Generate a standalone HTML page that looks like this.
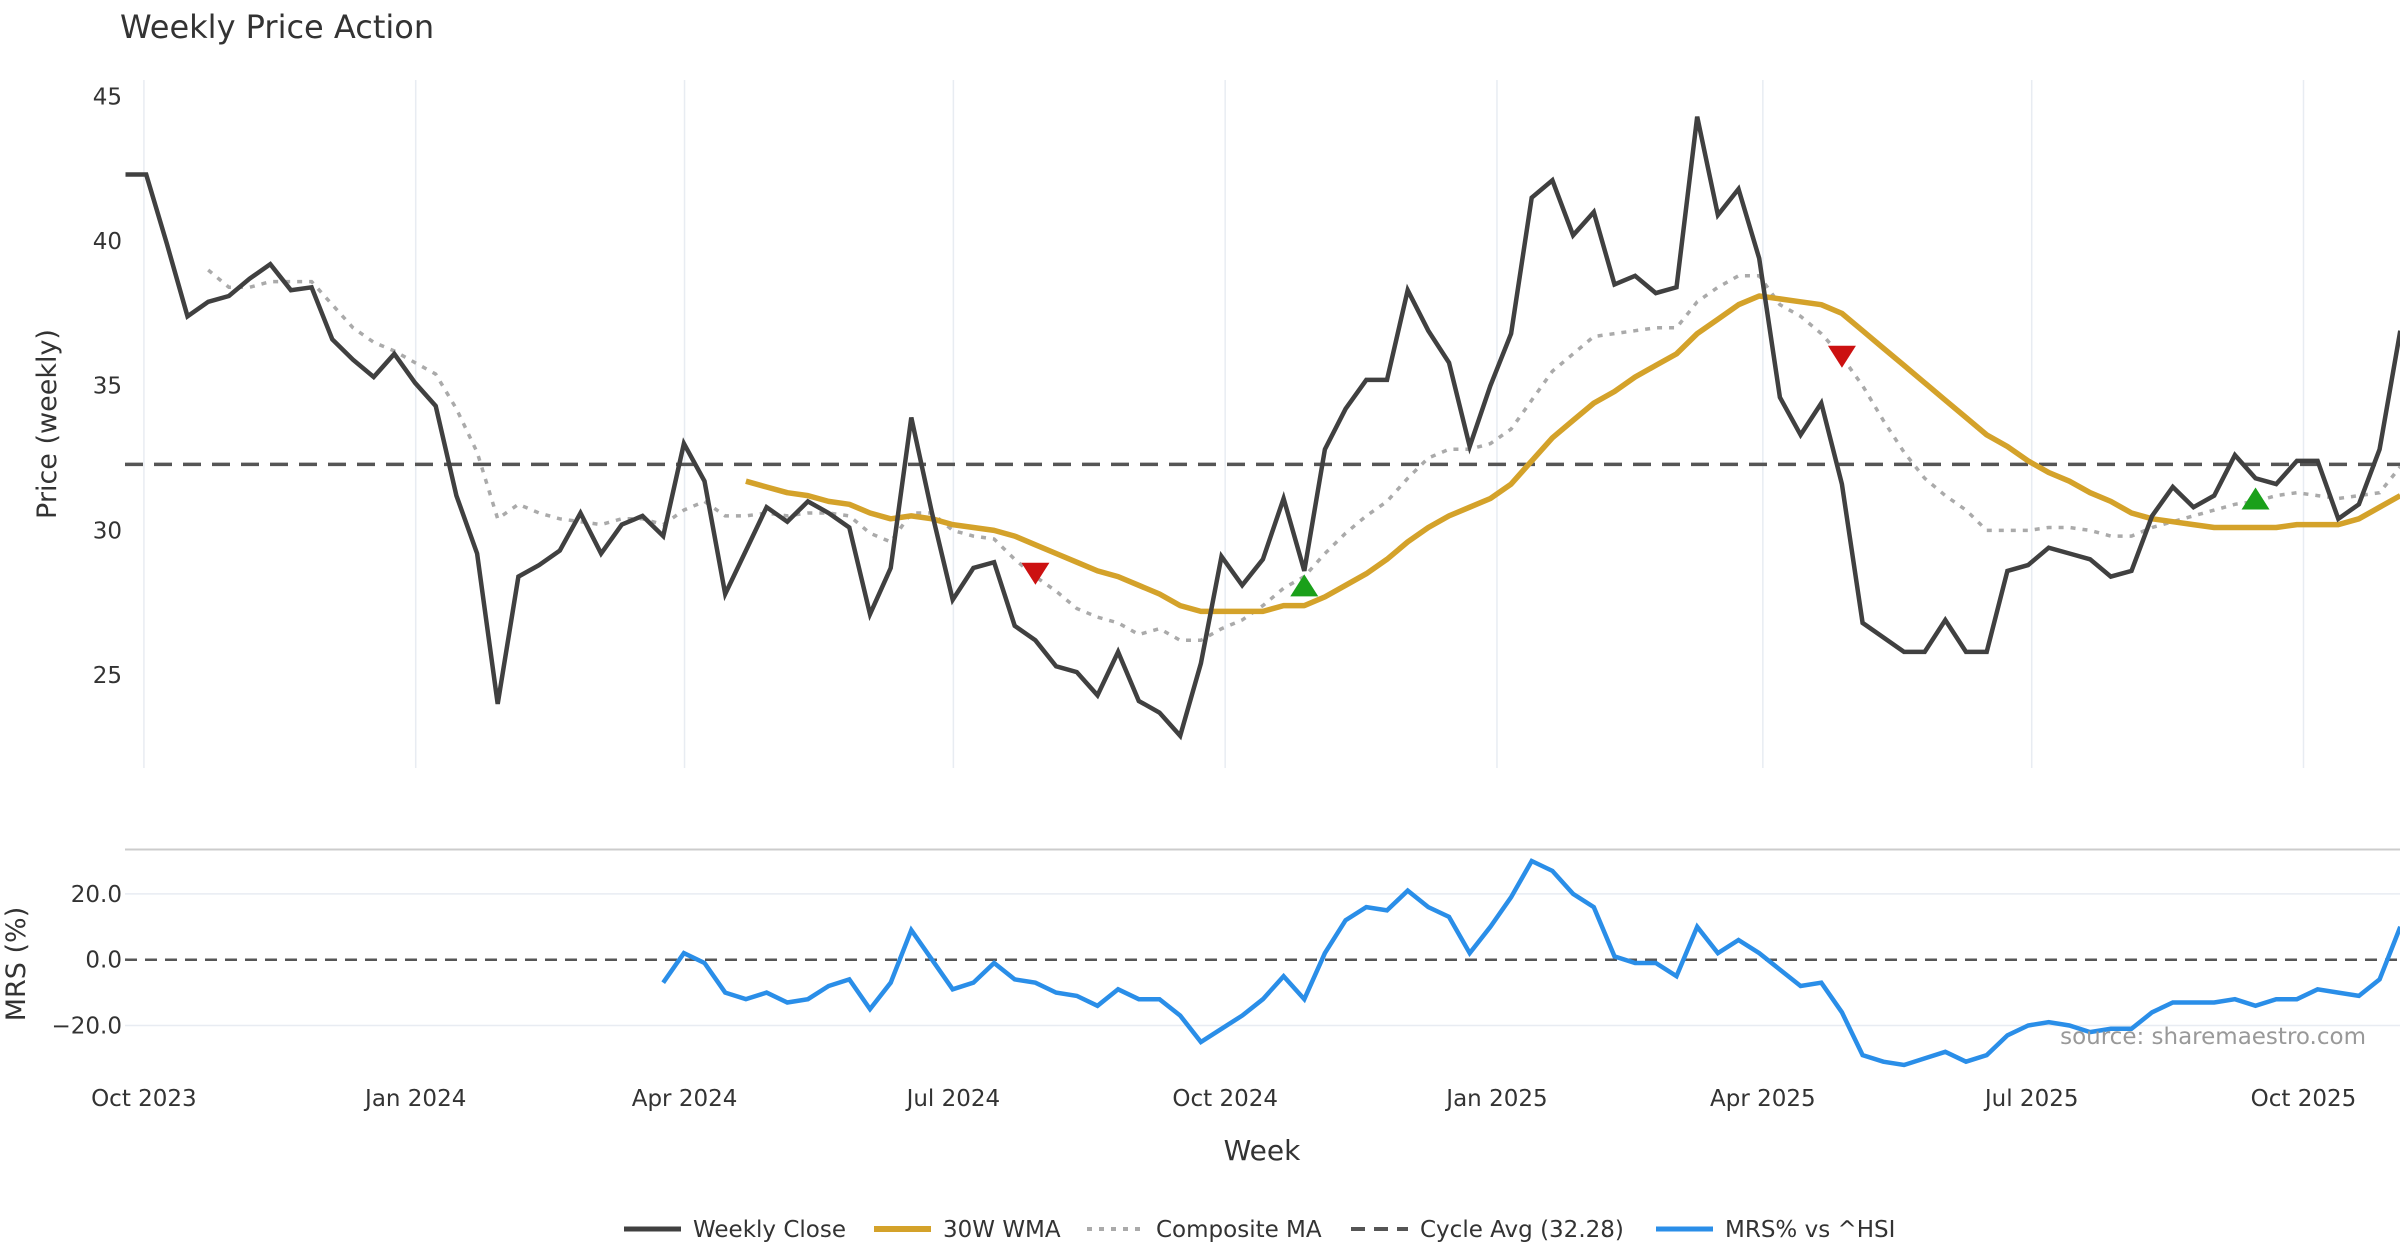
<!DOCTYPE html>
<html><head><meta charset="utf-8"><style>
html,body{margin:0;padding:0;background:#fff;}
svg{display:block;font-family:"DejaVu Sans","Liberation Sans",sans-serif;}
</style></head><body>
<svg id="chart" width="2400" height="1260" viewBox="0 0 2400 1260" xmlns="http://www.w3.org/2000/svg">
<defs>
<clipPath id="mainClip"><rect x="125" y="70" width="2275" height="700"/></clipPath>
<clipPath id="mrsClip"><rect x="125" y="850" width="2275" height="230"/></clipPath>
</defs>
<text x="120" y="38" font-size="32" fill="#333">Weekly Price Action</text>
<g id="main"></g>
<g id="mrs"></g>
<g id="xaxis"></g>
<text x="1262" y="1160" font-size="28" fill="#333" text-anchor="middle">Week</text>
<text transform="translate(56,424) rotate(-90)" font-size="27" fill="#333" text-anchor="middle">Price (weekly)</text>
<text transform="translate(25,964) rotate(-90)" font-size="27" fill="#333" text-anchor="middle">MRS (%)</text>
<text x="2366" y="1044" font-size="23" fill="#999" text-anchor="end">source: sharemaestro.com</text>
<g id="legend"></g>
</svg>
<script>
const closeVals=[42.3,42.3,39.9,37.4,37.9,38.1,38.7,39.2,38.3,38.4,36.6,35.9,35.3,36.1,35.1,34.3,31.2,29.2,24.0,28.4,28.8,29.3,30.6,29.2,30.2,30.5,29.8,33.0,31.7,27.8,29.3,30.8,30.3,31.0,30.6,30.1,27.1,28.7,33.9,30.6,27.6,28.7,28.9,26.7,26.2,25.3,25.1,24.3,25.8,24.1,23.7,22.9,25.4,29.1,28.1,29.0,31.1,28.6,32.8,34.2,35.2,35.2,38.3,36.9,35.8,32.9,35.0,36.8,41.5,42.1,40.2,41.0,38.5,38.8,38.2,38.4,44.3,40.9,41.8,39.4,34.6,33.3,34.4,31.6,26.8,26.3,25.8,25.8,26.9,25.8,25.8,28.6,28.8,29.4,29.2,29.0,28.4,28.6,30.5,31.5,30.8,31.2,32.6,31.8,31.6,32.4,32.4,30.4,30.9,32.8,36.9];
const wmaStart=30;
const wmaVals=[31.7,31.5,31.3,31.2,31.0,30.9,30.6,30.4,30.5,30.4,30.2,30.1,30.0,29.8,29.5,29.2,28.9,28.6,28.4,28.1,27.8,27.4,27.2,27.2,27.2,27.2,27.4,27.4,27.7,28.1,28.5,29.0,29.6,30.1,30.5,30.8,31.1,31.6,32.4,33.2,33.8,34.4,34.8,35.3,35.7,36.1,36.8,37.3,37.8,38.1,38.0,37.9,37.8,37.5,36.9,36.3,35.7,35.1,34.5,33.9,33.3,32.9,32.4,32.0,31.7,31.3,31.0,30.6,30.4,30.3,30.2,30.1,30.1,30.1,30.1,30.2,30.2,30.2,30.4,30.8,31.2];
const compStart=4;
const compVals=[39.0,38.4,38.4,38.6,38.6,38.6,37.8,37.0,36.5,36.2,35.8,35.4,34.2,32.7,30.4,30.9,30.6,30.4,30.3,30.2,30.4,30.4,30.2,30.7,31.0,30.5,30.5,30.6,30.5,30.6,30.6,30.5,29.9,29.6,30.6,30.6,30.0,29.8,29.7,29.0,28.4,27.9,27.3,27.0,26.8,26.4,26.6,26.2,26.2,26.6,26.9,27.4,28.0,28.4,29.2,29.9,30.5,31.0,31.8,32.5,32.8,32.8,33.0,33.5,34.5,35.5,36.1,36.7,36.8,36.9,37.0,37.0,37.9,38.4,38.8,38.8,37.8,37.4,36.8,36.0,35.0,33.8,32.7,31.8,31.2,30.7,30.0,30.0,30.0,30.1,30.1,30.0,29.8,29.8,30.1,30.3,30.5,30.7,30.9,31.0,31.2,31.3,31.2,31.1,31.2,31.3,32.2];
const cycleAvg=32.28;
const mrsStart=26;
const mrsVals=[-7,2,-1,-10,-12,-10,-13,-12,-8,-6,-15,-7,9,0,-9,-7,-1,-6,-7,-10,-11,-14,-9,-12,-12,-17,-25,-21,-17,-12,-5,-12,2,12,16,15,21,16,13,2,10,19,30,27,20,16,1,-1,-1,-5,10,2,6,2,-3,-8,-7,-16,-29,-31,-32,-30,-28,-31,-29,-23,-20,-19,-20,-22,-21,-21,-16,-13,-13,-13,-12,-14,-12,-12,-9,-10,-11,-6,10];
const sellIdx=[44,83];
const sellVals=[28.5,36.0];
const buyIdx=[57,103];
const buyVals=[28.1,31.1];
const priceTicks=[25,30,35,40,45];
const mrsTicks=[20,0,-20];
const monthLabels=["Oct 2023","Jan 2024","Apr 2024","Jul 2024","Oct 2024","Jan 2025","Apr 2025","Jul 2025","Oct 2025"];
const monthDates=["2023-10-01","2024-01-01","2024-04-01","2024-07-01","2024-10-01","2025-01-01","2025-04-01","2025-07-01","2025-10-01"];
const tickOrigin=Date.UTC(2023,9,1);

const NS="http://www.w3.org/2000/svg";
function X(i){return 125.5+20.68*i;}
function Y(v){return 96.4+(45-v)*28.93;}
function YM(v){return 959.7-v*3.29;}
function mk(tag,attrs,parent){const e=document.createElementNS(NS,tag);for(const k in attrs)e.setAttribute(k,attrs[k]);parent.appendChild(e);return e;}
function pathFrom(vals,start,yf){return vals.map((v,k)=>(k?"L":"M")+X(start+k).toFixed(1)+","+yf(v).toFixed(1)).join(" ");}
const main=document.getElementById("main"),mrs=document.getElementById("mrs"),xa=document.getElementById("xaxis");

monthDates.forEach((d,k)=>{
  const p=d.split("-");const idx=0.89+(Date.UTC(+p[0],+p[1]-1,+p[2])-tickOrigin)/86400000/7;const x=X(idx);
  const g=mk("line",{x1:x,x2:x,y1:80,y2:768,stroke:"#e8ecf2","stroke-width":1.5},main);
  
  
  const t=mk("text",{x:x,y:1106,"font-size":23,fill:"#333","text-anchor":"middle"},xa);
  t.textContent=monthLabels[k];
  
  
});
priceTicks.forEach(v=>{
  const t=mk("text",{x:122,y:Y(v)+8,"font-size":23,fill:"#333","text-anchor":"end"},main);
  t.textContent=v;
  
  
});
const cl=mk("line",{x1:125,x2:2400,y1:Y(cycleAvg),y2:Y(cycleAvg),stroke:"#555","stroke-width":3.5,"stroke-dasharray":"18,11"},main);


const gm=mk("g",{"clip-path":"url(#mainClip)",fill:"none"},main);
const pc=mk("path",{d:pathFrom(compVals,compStart,Y),stroke:"#aaa","stroke-width":3.5,"stroke-dasharray":"5,7",fill:"none"},gm);


const pw=mk("path",{d:pathFrom(wmaVals,wmaStart,Y),stroke:"#d4a22a","stroke-width":5.5,fill:"none","stroke-linejoin":"round"},gm);


const pcl=mk("path",{d:pathFrom(closeVals,0,Y),stroke:"#404040","stroke-width":4.5,fill:"none"},gm);


sellIdx.forEach((i,k)=>{const x=X(i),y=Y(sellVals[k]);
  const m=mk("polygon",{points:`${x-14},${y-11} ${x+14},${y-11} ${x},${y+11}`,fill:"#cc1111"},gm);
  
  });
buyIdx.forEach((i,k)=>{const x=X(i),y=Y(buyVals[k]);
  const m=mk("polygon",{points:`${x-14},${y+11} ${x+14},${y+11} ${x},${y-11}`,fill:"#1aa01a"},gm);
  
  });

const sep=mk("line",{x1:125,x2:2400,y1:849.5,y2:849.5,stroke:"#ccc","stroke-width":2},mrs);


mrsTicks.forEach(v=>{
  if(v!==0){const g=mk("line",{x1:125,x2:2400,y1:YM(v),y2:YM(v),stroke:"#e8ecf2","stroke-width":1.5},mrs);
  
  }
  const t=mk("text",{x:122,y:YM(v)+8,"font-size":23,fill:"#333","text-anchor":"end"},mrs);
  t.textContent=(v<0?"\u2212"+Math.abs(v):v).toString().replace(/(\d+)$/,"$1.0");
  
  
});
const zl=mk("line",{x1:125,x2:2400,y1:YM(0),y2:YM(0),stroke:"#555","stroke-width":2.5,"stroke-dasharray":"12,8"},mrs);


const gr=mk("g",{"clip-path":"url(#mrsClip)"},mrs);
const pm=mk("path",{d:pathFrom(mrsVals,mrsStart,YM),stroke:"#2a8ee8","stroke-width":4.5,fill:"none"},gr);



const leg=document.getElementById("legend");
const items=[["Weekly Close",624,"#404040",5,""],["30W WMA",874,"#d4a22a",6,""],["Composite MA",1087,"#aaa",4,"5,7"],["Cycle Avg (32.28)",1351,"#555",4,"14,9"],["MRS% vs ^HSI",1656,"#2a8ee8",5,""]];
items.forEach(it=>{
  const y=1229;
  const l=mk("line",{x1:it[1],x2:it[1]+57,y1:y,y2:y,stroke:it[2],"stroke-width":it[3]},leg);
  if(it[4])l.setAttribute("stroke-dasharray",it[4]);
  
  
  const t=mk("text",{x:it[1]+69,y:y+8,"font-size":23,fill:"#333"},leg);
  t.textContent=it[0];
  
  
});
</script>
</body></html>
